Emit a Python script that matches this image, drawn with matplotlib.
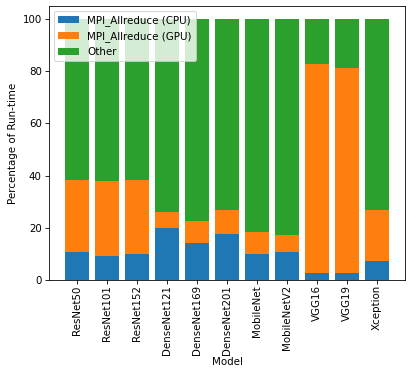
import matplotlib
matplotlib.use("Agg")
import matplotlib.pyplot as plt
import numpy as np

# share of run-time per model, in percent
models = ["ResNet50", "ResNet101", "ResNet152", "DenseNet121", "DenseNet169",
          "DenseNet201", "MobileNet", "MobileNetV2", "VGG16", "VGG19", "Xception"]
cpu = [10.8, 9.2, 10.0, 19.9, 14.2, 17.6, 10.0, 10.7, 2.7, 2.7, 7.3]
gpu_top = [38.3, 37.9, 38.3, 26.0, 22.6, 26.8, 18.4, 17.2, 82.9, 81.2, 26.8]

cpu = np.array(cpu)
gpu = np.array(gpu_top) - cpu
other = 100 - cpu - gpu

DPI = 74
fig = plt.figure(figsize=(415 / DPI, 371 / DPI), dpi=DPI)
ax = fig.add_axes([0.118, 0.245, 0.858, 0.739])

x = np.arange(len(models))
ax.bar(x, cpu, label="MPI_Allreduce (CPU)")
ax.bar(x, gpu, bottom=cpu, label="MPI_Allreduce (GPU)")
ax.bar(x, other, bottom=cpu + gpu, label="Other")

ax.set_xticks(x)
ax.set_xticklabels(models, rotation=90)
ax.tick_params(axis="x", pad=1.5)
ax.set_xlabel("Model", labelpad=2)
ax.set_ylabel("Percentage of Run-time")
ax.legend(loc="upper left")

fig.savefig("out.png", dpi=DPI)
